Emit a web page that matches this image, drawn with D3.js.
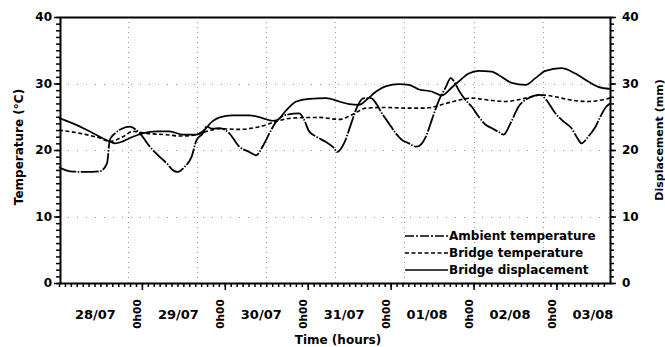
<!DOCTYPE html>
<html>
<head>
<meta charset="utf-8">
<script src="https://cdn.jsdelivr.net/npm/d3@7"></script>
<style>
  html, body { margin: 0; padding: 0; background: #fff; }
  svg { display: block; font-family: "DejaVu Sans", sans-serif; font-weight: bold; }
</style>
</head>
<body>
<svg id="chart" width="665" height="347"></svg>
<script>
// Day labels and the time (hours from 28/07 0h00) of each midnight
const dayLabels = ["28/07", "29/07", "30/07", "31/07", "01/08", "02/08", "03/08"];
const midnightHours = [24, 48, 72, 96, 120, 144];
const midnightLabel = "0h00";
const gridHours = [20, 40, 60, 80, 100, 120, 140];
const gridTemps = [10, 20, 30];
const tempTicks = [0, 10, 20, 30, 40];
const dispTicks = [0, 10, 20, 30, 40];

// Ambient temperature (°C)
const ambientHours = [0, 3.2, 7.5, 11.8, 13.9, 14.7, 16.2, 18.2, 20.5, 23.4, 26.3, 29.1, 31.2, 32.9, 34.3, 36.4, 38.4, 39.8, 41.6, 42.7, 44.4, 46.5, 49.3, 52.2, 55.1, 57.1, 58.9, 60.9, 62.9, 65.8, 69.5, 71, 72.4, 74.5, 77.3, 79.6, 80.5, 82.5, 84.6, 86.3, 88.3, 90.3, 91.8, 93.5, 95.5, 97.5, 99.3, 101.3, 103.3, 104.2, 106.2, 107.9, 110, 112, 113.4, 114.9, 115.7, 117.7, 119.5, 121.5, 123.5, 125.2, 127.3, 128.7, 130.7, 133, 135.9, 139.4, 141.1, 143.7, 146, 148.3, 150.4, 151.2, 153.2, 155.3, 157, 158.4, 159.5];
const ambientTemp = [17.4, 16.8, 16.7, 16.8, 18, 21.5, 22.5, 23.2, 23.5, 22.5, 20.5, 19, 18, 17, 16.7, 17.5, 19, 21.5, 22.5, 23.5, 23.2, 23.3, 22.5, 20.5, 19.7, 19.2, 20.5, 22.5, 24.3, 25.3, 25.5, 24.5, 22.8, 22, 21.2, 20.3, 19.7, 21, 24, 26.5, 27.8, 27.8, 27, 25.5, 24, 22.5, 21.5, 21, 20.5, 20.6, 22, 24.5, 27.5, 29.5, 30.8, 29.8, 29, 27.5, 26.5, 25, 23.8, 23.3, 22.7, 22.3, 24, 26.5, 27.8, 28.3, 27.5, 25.5, 24.3, 23.3, 21.5, 21, 22, 23.5, 25.3, 26.5, 27];

// Bridge temperature (°C)
const bridgeHours = [0, 6.1, 11.8, 14.7, 18.5, 21.4, 25.4, 31.2, 34.9, 39.8, 42.7, 46.5, 52.2, 58, 62.9, 67.5, 75.3, 81.1, 84.8, 88.9, 94.7, 100.4, 106.2, 112, 115.7, 119.5, 124.4, 129.3, 135.1, 139.4, 143.7, 148.3, 153.2, 159.5];
const bridgeTemp = [23, 22.5, 21.8, 21.3, 22, 22.8, 22.5, 22.3, 22.1, 22.3, 22.8, 23.2, 23.1, 23.5, 24.3, 24.8, 24.9, 24.6, 25.3, 26.3, 26.4, 26.3, 26.3, 27, 27.5, 27.8, 27.5, 27.3, 27.8, 28.3, 28, 27.5, 27.3, 27.8];

// Bridge displacement (mm)
const dispHours = [0, 4, 8.1, 11.8, 14.7, 16.2, 18.5, 21.4, 24.2, 28.3, 32, 35.8, 39.8, 41.6, 44.4, 46.5, 50.2, 55.1, 58.9, 61.8, 63.2, 65.8, 68.7, 72.4, 77.3, 81.1, 84, 86.9, 88.9, 91.8, 94.7, 98.4, 101.3, 104.2, 107.9, 110.8, 113.7, 115.7, 118.6, 121.5, 125.2, 128.1, 131, 135.1, 137.9, 140.8, 145.4, 149.5, 153.2, 156.1, 159.5];
const dispValues = [24.8, 24, 23, 22, 21.3, 21, 21.3, 22, 22.5, 22.8, 22.8, 22.3, 22.3, 22.8, 24.3, 24.9, 25.2, 25.2, 24.8, 24.4, 24.5, 26, 27.3, 27.7, 27.8, 27.3, 26.9, 26.8, 27.5, 28.8, 29.6, 29.9, 29.8, 29.1, 28.8, 28.2, 29.4, 30.3, 31.5, 31.9, 31.8, 31, 30.1, 29.8, 30.8, 31.9, 32.3, 31.5, 30.3, 29.5, 29.2];

const series = [
  { name: "Ambient temperature", hours: ambientHours, values: ambientTemp, dash: "18,1.5,1.5,1.5", legendDash: "9,2,2,2", width: 1.8, axis: "temp" },
  { name: "Bridge temperature", hours: bridgeHours, values: bridgeTemp, dash: "4,2.5", legendDash: "4,2.5", width: 1.6, axis: "temp" },
  { name: "Bridge displacement", hours: dispHours, values: dispValues, dash: null, legendDash: null, width: 1.7, axis: "disp" }
];

const svg = d3.select("#chart");
const plotLeft = 59, plotRight = 610, plotTop = 17, plotBottom = 283;
const x = d3.scaleLinear().domain([0, 159.5]).range([plotLeft, plotRight]);
const y = d3.scaleLinear().domain([0, 40]).range([plotBottom, plotTop]);
const y2 = d3.scaleLinear().domain([0, 40]).range([plotBottom, plotTop]);

// dotted grid
const grid = svg.append("g").attr("fill", "none").attr("stroke", "#999").attr("stroke-width", 1);
grid.selectAll("line.v").data(gridHours).join("line").attr("class", "v")
  .attr("x1", d => Math.round(x(d)) + 0.5).attr("x2", d => Math.round(x(d)) + 0.5)
  .attr("y1", plotTop).attr("y2", plotBottom)
  .attr("stroke-dasharray", "1,4");
grid.selectAll("line.h").data(gridTemps).join("line").attr("class", "h")
  .attr("x1", plotLeft).attr("x2", plotRight)
  .attr("y1", d => Math.round(y(d)) + 0.5).attr("y2", d => Math.round(y(d)) + 0.5)
  .attr("stroke-dasharray", "1,8");

// curves
const line = d3.line().curve(d3.curveMonotoneX);
series.forEach(s => {
  const ys = s.axis === "disp" ? y2 : y;
  const pts = s.hours.map((h, i) => [x(h), ys(s.values[i])]);
  svg.append("path")
    .attr("d", line(pts))
    .attr("fill", "none")
    .attr("stroke", "#000")
    .attr("stroke-width", s.width)
    .attr("stroke-linejoin", "round")
    .attr("stroke-dasharray", s.dash);
});

// axes
function styleAxis(g) {
  g.selectAll(".domain").attr("stroke", "#000").attr("stroke-width", 2);
  g.selectAll(".tick line").attr("stroke", "#000").attr("stroke-width", 1.5);
  g.selectAll("text").attr("fill", "#000").attr("font-family", "DejaVu Sans, sans-serif")
    .attr("font-weight", "bold").attr("font-size", 12);
}

// top frame line
svg.append("g").attr("transform", `translate(0,${plotTop})`)
  .call(d3.axisTop(x).tickValues([]).tickSizeOuter(0)).call(styleAxis);

// bottom time axis: minor ticks then midnight ticks
const minorHours = d3.range(0, 93).map(i => i * 24 / 14).filter(h => h <= 159.5);
svg.append("g").attr("transform", `translate(0,${plotBottom})`)
  .call(d3.axisBottom(x).tickValues(minorHours).tickSize(4).tickSizeOuter(0).tickFormat(""))
  .call(styleAxis);
svg.append("g").attr("transform", `translate(0,${plotBottom})`)
  .call(d3.axisBottom(x).tickValues(midnightHours).tickSize(7).tickSizeOuter(0).tickFormat(""))
  .call(styleAxis)
  .call(g => g.select(".domain").remove());

// left temperature axis
svg.append("g").attr("transform", `translate(${plotLeft + 1},0)`)
  .call(d3.axisLeft(y).tickValues(d3.range(0, 41)).tickSize(4).tickSizeOuter(0).tickFormat(""))
  .call(styleAxis);
svg.append("g").attr("transform", `translate(${plotLeft + 1},0)`)
  .call(d3.axisLeft(y).tickValues(tempTicks).tickSize(6).tickPadding(2).tickSizeOuter(0))
  .call(styleAxis)
  .call(g => g.select(".domain").remove());

// right displacement axis
svg.append("g").attr("transform", `translate(${plotRight},0)`)
  .call(d3.axisRight(y2).tickValues(d3.range(0, 41)).tickSize(4).tickSizeOuter(0).tickFormat(""))
  .call(styleAxis);
svg.append("g").attr("transform", `translate(${plotRight},0)`)
  .call(d3.axisRight(y2).tickValues(dispTicks).tickSize(6).tickPadding(6).tickSizeOuter(0))
  .call(styleAxis)
  .call(g => g.select(".domain").remove());

// date labels centred on each day, midnight labels rotated
svg.append("g").selectAll("text").data(dayLabels).join("text")
  .attr("x", (d, i) => x(i * 24 + 12) - 5)
  .attr("y", 319)
  .attr("text-anchor", "middle")
  .attr("font-size", 13)
  .text(d => d);
svg.append("g").selectAll("text").data(midnightHours).join("text")
  .attr("transform", d => `translate(${x(d) - 4.5},314) rotate(-90)`)
  .attr("text-anchor", "middle")
  .attr("dominant-baseline", "central")
  .attr("font-size", 10.5)
  .text(midnightLabel);

// axis titles
svg.append("text")
  .attr("x", 338).attr("y", 344)
  .attr("text-anchor", "middle").attr("font-size", 12)
  .text("Time (hours)");
svg.append("text")
  .attr("transform", "translate(19,147) rotate(-90)")
  .attr("text-anchor", "middle").attr("dominant-baseline", "central").attr("font-size", 12)
  .text("Temperature (°C)");
svg.append("text")
  .attr("transform", "translate(659,140) rotate(-90)")
  .attr("text-anchor", "middle").attr("dominant-baseline", "central").attr("font-size", 11)
  .text("Displacement (mm)");

// legend
const legendRows = [236, 253, 270];
const legend = svg.append("g");
series.forEach((s, i) => {
  legend.append("line")
    .attr("x1", 405).attr("x2", 448)
    .attr("y1", legendRows[i]).attr("y2", legendRows[i])
    .attr("stroke", "#000").attr("stroke-width", 1.5)
    .attr("stroke-dasharray", s.legendDash);
  legend.append("text")
    .attr("x", 449).attr("y", legendRows[i])
    .attr("dominant-baseline", "central").attr("font-size", 12)
    .text(s.name);
});
</script>
</body>
</html>
